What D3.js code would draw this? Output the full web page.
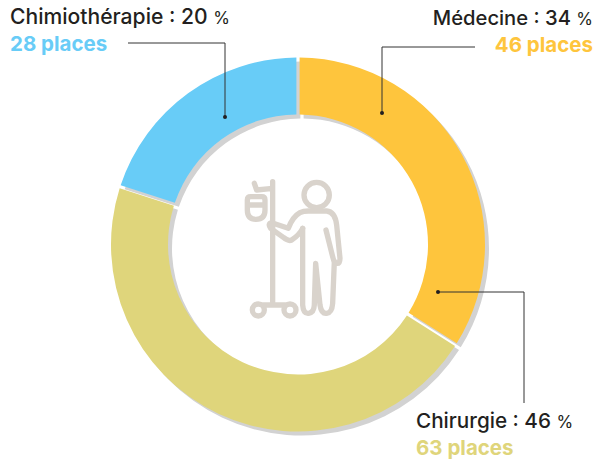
<!DOCTYPE html>
<html>
<head>
<meta charset="utf-8">
<script src="https://cdn.jsdelivr.net/npm/d3@7"></script>
<style>
  html, body { margin: 0; padding: 0; background: #fff; }
  svg { display: block; }
  text { font-family: Inter, "Open Sans", sans-serif; }
</style>
</head>
<body>
<svg id="chart" width="597" height="464"></svg>
<script>
const categories = [ "Médecine", "Chirurgie", "Chimiothérapie" ];
const percents = [ 34, 46, 20 ];
const places = [ 46, 63, 28 ];
const colors = [ "#fec53d", "#dfd57b", "#68ccf7" ];

const cx = 298, cy = 244.5, outer = 187, inner = 130;

// label anchor, and leader line as dot -> elbow -> end
const labelPos = [
    { x: 593, y: 25, anchor: "end", size: 20.2 },
    { x: 416, y: 428, anchor: "start", size: 20.7 },
    { x: 10, y: 24, anchor: "start", size: 21.1 }
];
const leaders = [
    [ [382, 113], [382, 47], [475, 47] ],
    [ [438, 292], [524, 292], [524, 403] ],
    [ [225, 117], [225, 43], [128, 43] ]
];

const svg = d3.select( "#chart" );

const pie = d3.pie().sort( null ).value( d=>d );
const arc = d3.arc().innerRadius( inner ).outerRadius( outer )
    .padAngle( 3.2 / 160 ).padRadius( 160 );

const arcs = pie( percents );

// grey offset shadow under the ring
svg.append( "g" ).attr( "transform", `translate(${cx + 4},${cy + 4})` )
    .selectAll( "path" ).data( arcs ).join( "path" )
    .attr( "d", arc ).attr( "fill", "#d2d2d2" );

svg.append( "g" ).attr( "transform", `translate(${cx},${cy})` )
    .selectAll( "path" ).data( arcs ).join( "path" )
    .attr( "d", arc ).attr( "fill", (d, i)=>colors[i] );

// leader lines
const line = d3.line();
svg.append( "g" ).selectAll( "path" ).data( leaders ).join( "path" )
    .attr( "d", d=>line( d ) )
    .attr( "fill", "none" ).attr( "stroke", "#333" ).attr( "stroke-width", 1 );
svg.append( "g" ).selectAll( "circle" ).data( leaders ).join( "circle" )
    .attr( "cx", d=>d[0][0] ).attr( "cy", d=>d[0][1] ).attr( "r", 2 )
    .attr( "fill", "#231f20" );

// labels
const labels = svg.append( "g" ).selectAll( "g" ).data( categories ).join( "g" );
labels.append( "text" )
    .attr( "x", (d, i)=>labelPos[i].x ).attr( "y", (d, i)=>labelPos[i].y )
    .attr( "text-anchor", (d, i)=>labelPos[i].anchor )
    .attr( "fill", "#231f20" ).attr( "font-size", (d, i)=>labelPos[i].size ).attr( "font-weight", 500 )
    .each( function(d, i) {
        d3.select( this ).append( "tspan" ).text( `${d} : ${percents[i]} ` );
        d3.select( this ).append( "tspan" ).attr( "font-size", 17 )
            .attr( "font-weight", 400 ).text( "%" );
    } );
labels.append( "text" )
    .attr( "x", (d, i)=>labelPos[i].x ).attr( "y", (d, i)=>labelPos[i].y + 27 )
    .attr( "text-anchor", (d, i)=>labelPos[i].anchor )
    .attr( "fill", (d, i)=>colors[i] ).attr( "font-size", 20.5 ).attr( "font-weight", 700 )
    .text( (d, i)=>`${places[i]} places` );

// patient icon, drawn at the scale of the zoomed crop
const icon = svg.append( "g" )
    .attr( "transform", "translate(220,160) scale(0.3333)" )
    .attr( "fill", "none" ).attr( "stroke", "#d9d3cc" ).attr( "stroke-width", 16 )
    .attr( "stroke-linecap", "round" ).attr( "stroke-linejoin", "round" );
icon.append( "circle" ).attr( "cx", 290 ).attr( "cy", 105 ).attr( "r", 38 );
// arm, shoulders and outer arm
icon.append( "path" ).attr( "d",
    "M248 205 Q238 225 215 240 Q205 245 190 232 L152 205 Q142 192 155 188 L205 205 Q218 170 240 158 Q250 153 265 153 L320 153 Q345 155 350 195 L360 295 Q360 312 350 310 Q342 308 338 290 L318 210" );
// legs
icon.append( "path" ).attr( "d",
    "M248 205 L248 435 Q250 462 266 460 Q282 458 283 435 L287 310 L300 435 Q304 462 320 460 Q336 458 338 430 L343 305" );
// pole and hooks
icon.append( "path" ).attr( "d", "M158 65 L158 430 M103 70 L110 90 L158 85" );
// drip bag
icon.append( "path" ).attr( "d",
    "M82 120 Q82 110 92 110 L125 110 Q135 110 135 120 L135 150 Q135 178 108 178 Q82 178 82 150 Z M85 135 L132 135" );
// stand with wheels
icon.append( "circle" ).attr( "cx", 115 ).attr( "cy", 450 ).attr( "r", 18 );
icon.append( "circle" ).attr( "cx", 210 ).attr( "cy", 450 ).attr( "r", 18 );
icon.append( "path" ).attr( "d", "M130 435 L195 435" );
</script>
</body>
</html>
